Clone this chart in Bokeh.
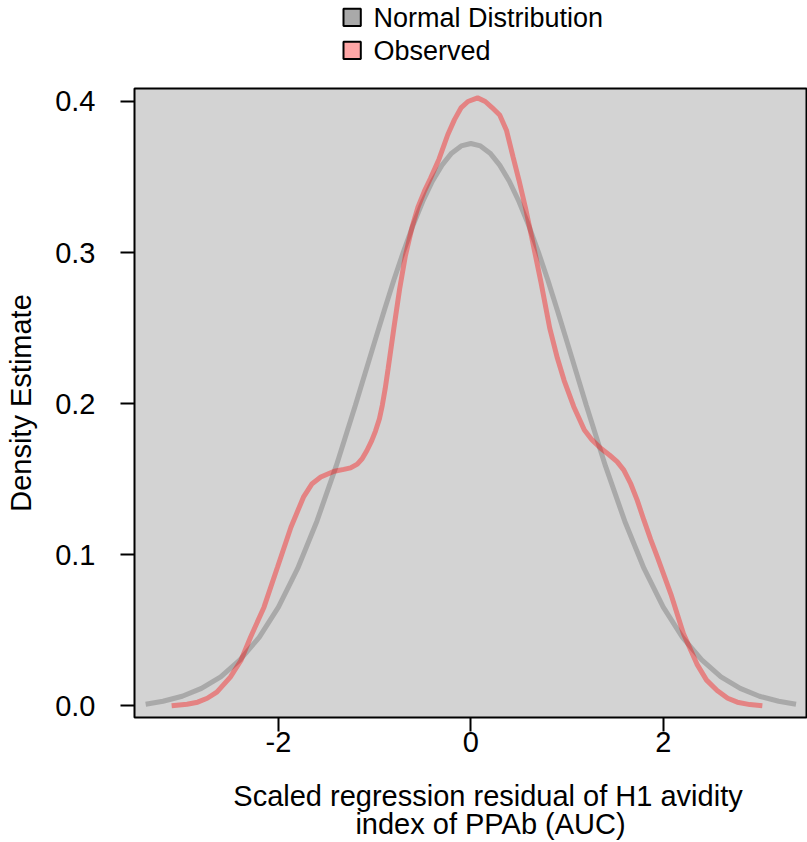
from bokeh.plotting import figure
from bokeh.layouts import column
from bokeh.models import Range1d, FixedTicker, Label
from bokeh.embed import file_html
from bokeh.resources import INLINE

# ---- data ----
x_norm = [-3.38, -3.2, -3.0, -2.8, -2.6, -2.4, -2.2, -2.0, -1.8, -1.6, -1.4, -1.2,
          -1.0, -0.9, -0.8, -0.7, -0.6, -0.5, -0.4, -0.3, -0.2, -0.1, 0.0,
          0.1, 0.2, 0.3, 0.4, 0.5, 0.6, 0.7, 0.8, 0.9, 1.0,
          1.2, 1.4, 1.6, 1.8, 2.0, 2.2, 2.4, 2.6, 2.8, 3.0, 3.2, 3.38]
y_norm = [0.001, 0.003, 0.0063, 0.0115, 0.0192, 0.0304, 0.0453, 0.0653, 0.0909, 0.1222, 0.1586, 0.1989,
          0.2409, 0.2617, 0.2818, 0.3007, 0.3182, 0.3338, 0.3472, 0.3579, 0.3658, 0.3706, 0.3722,
          0.3706, 0.3658, 0.3579, 0.3472, 0.3338, 0.3182, 0.3007, 0.2818, 0.2617, 0.2409,
          0.1989, 0.1586, 0.1222, 0.0909, 0.0653, 0.0453, 0.0304, 0.0192, 0.0115, 0.0063, 0.003, 0.001]

x_obs = [-3.11, -2.95, -2.84, -2.74, -2.64, -2.50, -2.39, -2.29, -2.15, -2.01, -1.87, -1.74,
         -1.65, -1.56, -1.42, -1.32, -1.25, -1.18, -1.13, -1.08, -1.03, -0.99, -0.95, -0.92,
         -0.89, -0.86, -0.80, -0.74, -0.68,
         -0.61, -0.55, -0.48, -0.42, -0.33, -0.24, -0.17, -0.10, -0.03, 0.07, 0.15, 0.22,
         0.30, 0.37, 0.44, 0.50, 0.57, 0.63, 0.73, 0.82, 0.90, 0.97, 1.07, 1.18,
         1.26, 1.35, 1.44, 1.52, 1.59, 1.66, 1.73, 1.80, 1.87, 1.94, 2.01, 2.08,
         2.21, 2.35, 2.45, 2.56, 2.67, 2.77, 2.90, 3.03]
y_obs = [0.000, 0.001, 0.0024, 0.005, 0.009, 0.019, 0.030, 0.0454, 0.0653, 0.0917, 0.1182, 0.1381,
         0.147, 0.1514, 0.1553, 0.1565, 0.1575, 0.160, 0.1635, 0.169, 0.1755, 0.182, 0.190, 0.199,
         0.210, 0.223, 0.250, 0.276, 0.298,
         0.317, 0.330, 0.341, 0.349, 0.362, 0.378, 0.388, 0.396, 0.400, 0.4024, 0.400, 0.396,
         0.391, 0.381, 0.363, 0.348, 0.329, 0.311, 0.280, 0.250, 0.230, 0.2153, 0.198, 0.1826,
         0.176, 0.1705, 0.166, 0.1616, 0.156, 0.1473, 0.136, 0.1227, 0.110, 0.0983, 0.086, 0.0738,
         0.0477, 0.0276, 0.017, 0.0101, 0.005, 0.0024, 0.0008, 0.000]

x_ticks = [-2, 0, 2]
x_tick_labels = ["-2", "0", "2"]
y_ticks = [0.0, 0.1, 0.2, 0.3, 0.4]
y_tick_labels = ["0.0", "0.1", "0.2", "0.3", "0.4"]

series_names = ["Normal Distribution", "Observed"]
series_swatch = ["#a9a9a9", "#ffa6a6"]
x_title = ["Scaled regression residual of H1 avidity", "index of PPAb (AUC)"]
y_title = "Density Estimate"

FONT = "Liberation Sans"
W = 807
LEFT, RIGHT = 134, 1          # border widths shared by all three stacked figures
TOP_H, MAIN_H, BOT_H = 78, 687, 77


def strip(h):
    # a figure whose frame is measured in pixels (x: page x, y: pixels from its bottom)
    f = figure(width=W, height=h, x_range=Range1d(LEFT, W - RIGHT), y_range=Range1d(0, h),
               output_backend="svg", toolbar_location=None,
               x_axis_location=None, y_axis_location=None,
               min_border_left=LEFT, min_border_right=RIGHT, min_border_top=0, min_border_bottom=0,
               outline_line_color=None, background_fill_color="white", border_fill_color="white")
    f.xgrid.visible = False
    f.ygrid.visible = False
    return f


# ---- top strip: legend ----
top = strip(TOP_H)
sw_size = 17.3
row_top = [8.3, 41.3]          # px from the top of the page
for name, col, rt in zip(series_names, series_swatch, row_top):
    top.quad(left=[343], right=[343 + sw_size], top=[TOP_H - rt], bottom=[TOP_H - rt - sw_size],
             fill_color=col, line_color="black", line_width=2)
    top.add_layout(Label(x=373, y=TOP_H - rt - 18.3 + 9.4, text=name, text_align="left",
                         text_baseline="alphabetic", text_font=FONT, text_font_size="27px",
                         text_color="black"))

# ---- main plot ----
p = figure(width=W, height=MAIN_H,
           x_range=Range1d(-3.496, 3.489), y_range=Range1d(-0.00774, 0.4086),
           output_backend="svg", toolbar_location=None,
           min_border_left=LEFT, min_border_right=RIGHT, min_border_top=10, min_border_bottom=48,
           background_fill_color="#d3d3d3", border_fill_color="white")

p.outline_line_color = "black"
p.outline_line_width = 2
p.xgrid.visible = False
p.ygrid.visible = False

p.xaxis.ticker = FixedTicker(ticks=x_ticks)
p.yaxis.ticker = FixedTicker(ticks=y_ticks)
p.xaxis.major_label_overrides = {v: t for v, t in zip(x_ticks, x_tick_labels)}
p.yaxis.major_label_overrides = {v: t for v, t in zip(y_ticks, y_tick_labels)}
for ax in (p.xaxis[0], p.yaxis[0]):
    ax.axis_line_color = None
    ax.major_tick_line_color = "black"
    ax.major_tick_line_width = 2
    ax.major_tick_out = 14
    ax.major_tick_in = 0
    ax.minor_tick_line_color = None
    ax.major_label_text_font = FONT
    ax.major_label_text_font_size = "29px"
    ax.major_label_text_color = "black"
    ax.axis_label_text_font = FONT
    ax.axis_label_text_font_size = "29px"
    ax.axis_label_text_font_style = "normal"
    ax.axis_label_text_color = "black"

p.xaxis.major_label_standoff = 0
p.yaxis.major_label_standoff = 25
p.yaxis.axis_label = y_title
p.yaxis.axis_label_standoff = 15

p.line(x_norm, y_norm, line_color="#7f7f7f", line_alpha=0.5, line_width=5)
p.line(x_obs, y_obs, line_color="#ff0000", line_alpha=0.38, line_width=5)

# ---- bottom strip: x axis title ----
bottom = strip(BOT_H)
for txt, xc, base in zip(x_title, (487.5, 490), (806, 834)):
    bottom.add_layout(Label(x=xc, y=842 - base + 10.2, text=txt, text_align="center",
                            text_baseline="alphabetic", text_font=FONT, text_font_size="29px",
                            text_color="black"))

layout = column(top, p, bottom, spacing=0)
open("out.html", "w").write(file_html(layout, INLINE))
